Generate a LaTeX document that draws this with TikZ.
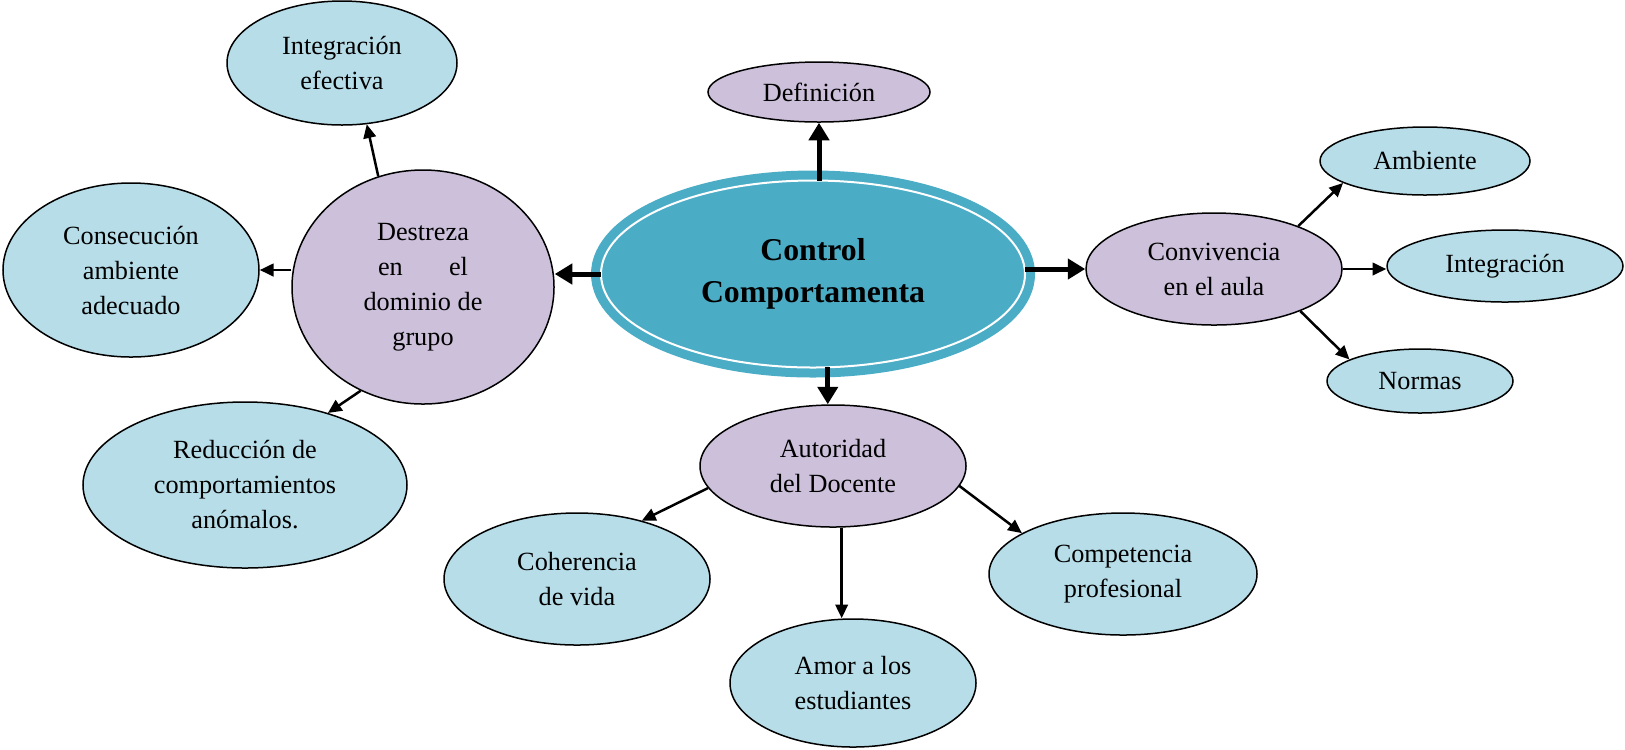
\documentclass[tikz,border=0pt]{standalone}
\usepackage{fontspec}
\setmainfont{Liberation Serif}
\usetikzlibrary{arrows.meta,positioning,shapes.geometric}

\definecolor{leafblue}{HTML}{B7DDE8}
\definecolor{hubpurple}{HTML}{CCC0DA}
\definecolor{coreblue}{HTML}{4BACC6}

\begin{document}
\begin{tikzpicture}[
  x=0.4pt, y=-0.4pt,
  every node/.style={font=\fontsize{10.5}{14}\selectfont, align=center},
  oval/.style={ellipse, draw, line width=0.6pt, inner sep=0pt},
  leaf/.style={oval, fill=leafblue},
  hub/.style={oval, fill=hubpurple},
  arr/.style={-{Triangle[length=5.5pt,width=5pt]}, line width=1pt},
  bigarr/.style={-{Triangle[length=7pt,width=8pt]}, line width=2pt}
]
\useasboundingbox (0,0) rectangle (1625,749);

\node[ellipse, fill=coreblue, draw=coreblue, line width=3.6pt, double=white, double distance=0.8pt, outer sep=0pt, inner sep=0pt, minimum width=169.6pt, minimum height=74.8pt, font=\fontsize{12.7}{17}\selectfont\bfseries] (ctr) at (813,274) {Control\\Comportamenta};

\node[hub, minimum width=88.8pt, minimum height=24pt] (def) at (819,92) {Definición};
\node[hub, minimum width=104.8pt, minimum height=93.6pt] (destreza) at (423,287) {Destreza\\\makebox[36pt][s]{en el}\\dominio de\\grupo};
\node[hub, minimum width=102.4pt, minimum height=44.8pt] (conv) at (1214,269) {Convivencia\\en el aula};
\node[hub, minimum width=106.4pt, minimum height=48.8pt] (autor) at (833,466) {Autoridad\\del Docente};

\node[leaf, minimum width=92pt, minimum height=49.6pt] (intef) at (342,63) {Integración\\efectiva};
\node[leaf, minimum width=102.4pt, minimum height=69.6pt] (consec) at (131,270) {Consecución\\ambiente\\adecuado};
\node[leaf, minimum width=129.6pt, minimum height=66.4pt] (reduc) at (245,485) {Reducción de\\comportamientos\\anómalos.};
\node[leaf, minimum width=84pt, minimum height=27.2pt] (amb) at (1425,161) {Ambiente};
\node[leaf, minimum width=94.4pt, minimum height=28.8pt] (integ) at (1505,266) {Integración};
\node[leaf, minimum width=74.4pt, minimum height=25.6pt] (normas) at (1420,381) {Normas};
\node[leaf, minimum width=106.4pt, minimum height=52.8pt] (coher) at (577,579) {Coherencia\\de vida};
\node[leaf, minimum width=98.4pt, minimum height=51.2pt] (amor) at (853,683) {Amor a los\\estudiantes};
\node[leaf, minimum width=107.2pt, minimum height=48.8pt] (compet) at (1123,574) {Competencia\\profesional};

\draw[bigarr] (ctr.north -| def.south) -- (def.south);
\draw[bigarr] (ctr.279) -- (ctr.279 |- autor.north);
\draw[bigarr] (ctr.west) -- (ctr.west -| destreza.east);
\draw[bigarr] (ctr.east |- conv.west) -- (conv.west);

\draw[arr] (destreza.112) -- (intef.292);
\draw[arr] (consec.east -| destreza.west) -- (consec.east);
\draw[arr] (destreza.239) -- (reduc.41);

\draw[arr] (conv.27) -- (amb.195);
\draw[arr] (conv.east) -- (conv.east -| integ.west);
\draw[arr] (conv.334) -- (normas.163);

\draw[arr] (autor.190) -- (coher.42);
\draw[arr] (autor.278) -- (autor.278 |- amor.north);
\draw[arr] (autor.351) -- (compet.158);

\end{tikzpicture}
\end{document}
